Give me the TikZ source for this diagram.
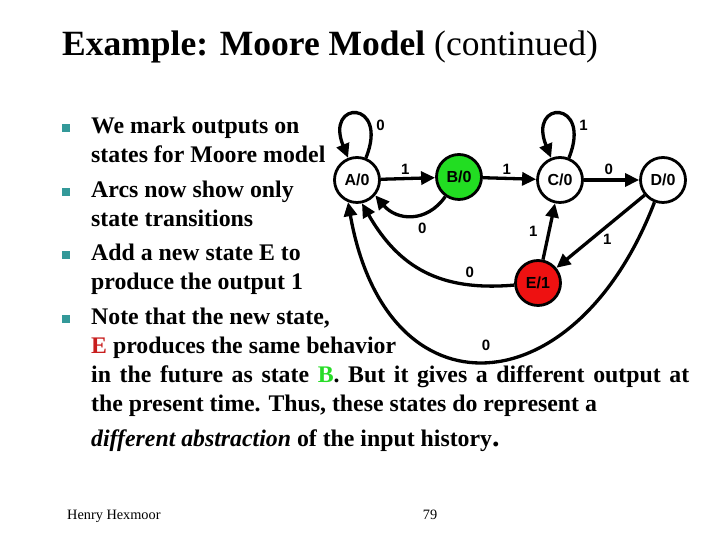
\documentclass[tikz,border=0pt]{standalone}
\usepackage{fontspec}
\setmainfont{Liberation Serif}
\newfontfamily\arialfont{Liberation Sans}
\usetikzlibrary{arrows.meta}
\definecolor{bulletteal}{RGB}{51,153,153}
\definecolor{stategreen}{RGB}{34,221,34}
\definecolor{statered}{RGB}{238,17,17}
\definecolor{textred}{RGB}{200,30,30}
\definecolor{textgreen}{RGB}{40,220,40}
\tikzset{
  state/.style={circle,draw,line width=2.8pt,minimum size=45pt,inner sep=0pt,
    font=\arialfont\bfseries\fontsize{16}{16}\selectfont},
  trans/.style={->,line width=3.3pt},
  lbl/.style={font=\arialfont\bfseries\fontsize{15}{15}\selectfont,inner sep=2pt},
  bullet/.style={fill=bulletteal,minimum size=7.5pt,inner sep=0pt},
  itemtext/.style={anchor=base west,inner sep=0pt,
    font=\bfseries\fontsize{23.8}{29}\selectfont}
}
\begin{document}
\begin{tikzpicture}[x=1pt,y=1pt,>={Triangle[length=14pt,width=13pt]}]
\useasboundingbox (0,0) rectangle (720,540);
% titolo
\node[anchor=base west,inner sep=0pt,font=\fontsize{35.5}{36}\selectfont] (title) at (62,484)
  {\textbf{Example: Moore Model} (continued)};
% elenco puntato
\node[bullet] (b1) at (66,412) {};
\node[bullet] (b2) at (66,348) {};
\node[bullet] (b3) at (66,285) {};
\node[bullet] (b4) at (66,221) {};
\node[itemtext] (t1) at (91,406)
  {\begin{tabular}[t]{@{}l@{}}We mark outputs on\\states for Moore model\end{tabular}};
\node[itemtext] (t2) at (91,342)
  {\begin{tabular}[t]{@{}l@{}}Arcs now show only\\state transitions\end{tabular}};
\node[itemtext] (t3) at (91,279)
  {\begin{tabular}[t]{@{}l@{}}Add a new state E to\\produce the output 1\end{tabular}};
\node[itemtext] (t4) at (91,215)
  {\begin{tabular}[t]{@{}l@{}}Note that the new state,\\
  \textcolor{textred}{E} produces the same behavior\\
  \makebox[598pt][s]{in the future as state \textcolor{textgreen}{B}. But it gives a different output at}\\
  the present time. Thus, these states do represent a\\[6pt]
  \textit{different abstraction} of the input history{\fontsize{30}{30}\selectfont.}\end{tabular}};
% stati
\node[state] (A) at (357,360) {A/0};
\node[state,fill=stategreen] (B) at (459,363) {B/0};
\node[state] (C) at (560,360) {C/0};
\node[state] (D) at (663,360) {D/0};
\node[state,fill=statered] (E) at (538,257) {E/1};
% transizioni
\draw[trans] (A) to[out=68,in=112,looseness=9] node[lbl,pos=0.25,right=3pt] {0} (A);
\draw[trans] (A) -- node[lbl,above,pos=0.45] {1} (B);
\draw[trans] (B) to[out=-125,in=-50,looseness=1.2] node[lbl,below=5pt,pos=0.35] {0} (A.-40);
\draw[trans] (B) -- node[lbl,above,pos=0.45] {1} (C);
\draw[trans] (C) to[out=68,in=112,looseness=9] node[lbl,pos=0.25,right=3pt] {1} (C);
\draw[trans] (C) -- node[lbl,above=2pt,pos=0.45] {0} (D);
\draw[trans] (D) -- node[lbl,anchor=north west,inner sep=1pt,pos=0.5] {1} (E);
\draw[trans] (E) -- node[lbl,left=8pt,pos=0.5] {1} (C);
\draw[trans] (E) to[out=185,in=-60,looseness=1.1] node[lbl,above=4pt,pos=0.22] {0} (A.-78);
\draw[trans] (D) to[out=-111,in=-80,looseness=1.85] node[lbl,above=7pt,pos=0.5] {0} (A.-112);
% pie' di pagina
\node[anchor=base west,inner sep=0pt,font=\fontsize{14.3}{15}\selectfont] (author) at (67,20) {Henry Hexmoor};
\node[anchor=base,inner sep=0pt,font=\fontsize{14.3}{15}\selectfont] (page) at (430,20) {79};
\end{tikzpicture}
\end{document}
